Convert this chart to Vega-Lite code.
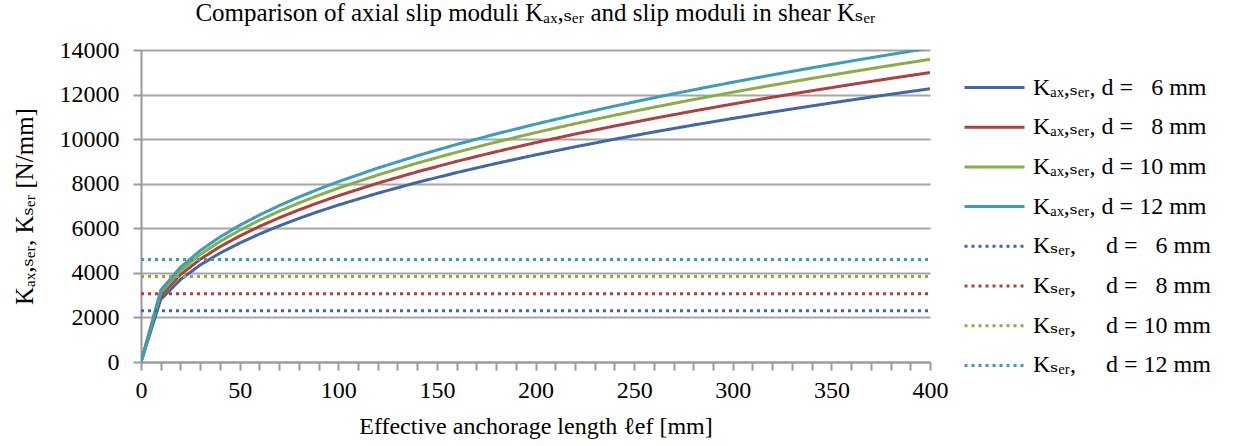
{
  "$schema": "https://vega.github.io/schema/vega-lite/v6.json",
  "width": 789,
  "height": 312,
  "autosize": {"type": "none"},
  "padding": {"left": 141, "top": 50, "right": 304, "bottom": 84},
  "background": "white",
  "title": {
    "text": "Comparison of axial slip moduli K\u2090\u2093,\u209b\u2091\u1d63 and slip moduli in shear K\u209b\u2091\u1d63",
    "font": "'Liberation Serif', 'DejaVu Serif'",
    "fontSize": 25,
    "fontWeight": "normal",
    "color": "black",
    "anchor": "middle",
    "frame": "group",
    "offset": 12
  },
  "datasets": {
    "rows": [
      {"l": 0, "k": 0, "s": "A6"}, {"l": 10, "k": 2804, "s": "A6"}, {"l": 20, "k": 3699, "s": "A6"}, {"l": 30, "k": 4351, "s": "A6"}, {"l": 40, "k": 4882, "s": "A6"}, {"l": 50, "k": 5337, "s": "A6"}, {"l": 60, "k": 5741, "s": "A6"}, {"l": 70, "k": 6106, "s": "A6"}, {"l": 80, "k": 6441, "s": "A6"}, {"l": 90, "k": 6752, "s": "A6"}, {"l": 100, "k": 7043, "s": "A6"}, {"l": 120, "k": 7575, "s": "A6"}, {"l": 140, "k": 8057, "s": "A6"}, {"l": 160, "k": 8499, "s": "A6"}, {"l": 180, "k": 8909, "s": "A6"}, {"l": 200, "k": 9293, "s": "A6"}, {"l": 220, "k": 9654, "s": "A6"}, {"l": 240, "k": 9996, "s": "A6"}, {"l": 260, "k": 10321, "s": "A6"}, {"l": 280, "k": 10632, "s": "A6"}, {"l": 300, "k": 10929, "s": "A6"}, {"l": 320, "k": 11215, "s": "A6"}, {"l": 340, "k": 11490, "s": "A6"}, {"l": 360, "k": 11756, "s": "A6"}, {"l": 380, "k": 12013, "s": "A6"}, {"l": 400, "k": 12262, "s": "A6"},
      {"l": 0, "k": 0, "s": "A8"}, {"l": 10, "k": 2970, "s": "A8"}, {"l": 20, "k": 3919, "s": "A8"}, {"l": 30, "k": 4609, "s": "A8"}, {"l": 40, "k": 5171, "s": "A8"}, {"l": 50, "k": 5653, "s": "A8"}, {"l": 60, "k": 6081, "s": "A8"}, {"l": 70, "k": 6468, "s": "A8"}, {"l": 80, "k": 6823, "s": "A8"}, {"l": 90, "k": 7152, "s": "A8"}, {"l": 100, "k": 7460, "s": "A8"}, {"l": 120, "k": 8024, "s": "A8"}, {"l": 140, "k": 8534, "s": "A8"}, {"l": 160, "k": 9002, "s": "A8"}, {"l": 180, "k": 9437, "s": "A8"}, {"l": 200, "k": 9843, "s": "A8"}, {"l": 220, "k": 10226, "s": "A8"}, {"l": 240, "k": 10588, "s": "A8"}, {"l": 260, "k": 10932, "s": "A8"}, {"l": 280, "k": 11261, "s": "A8"}, {"l": 300, "k": 11576, "s": "A8"}, {"l": 320, "k": 11879, "s": "A8"}, {"l": 340, "k": 12170, "s": "A8"}, {"l": 360, "k": 12452, "s": "A8"}, {"l": 380, "k": 12724, "s": "A8"}, {"l": 400, "k": 12988, "s": "A8"},
      {"l": 0, "k": 0, "s": "A10"}, {"l": 10, "k": 3106, "s": "A10"}, {"l": 20, "k": 4097, "s": "A10"}, {"l": 30, "k": 4819, "s": "A10"}, {"l": 40, "k": 5407, "s": "A10"}, {"l": 50, "k": 5911, "s": "A10"}, {"l": 60, "k": 6359, "s": "A10"}, {"l": 70, "k": 6763, "s": "A10"}, {"l": 80, "k": 7134, "s": "A10"}, {"l": 90, "k": 7478, "s": "A10"}, {"l": 100, "k": 7800, "s": "A10"}, {"l": 120, "k": 8390, "s": "A10"}, {"l": 140, "k": 8924, "s": "A10"}, {"l": 160, "k": 9413, "s": "A10"}, {"l": 180, "k": 9867, "s": "A10"}, {"l": 200, "k": 10292, "s": "A10"}, {"l": 220, "k": 10692, "s": "A10"}, {"l": 240, "k": 11071, "s": "A10"}, {"l": 260, "k": 11431, "s": "A10"}, {"l": 280, "k": 11775, "s": "A10"}, {"l": 300, "k": 12105, "s": "A10"}, {"l": 320, "k": 12421, "s": "A10"}, {"l": 340, "k": 12726, "s": "A10"}, {"l": 360, "k": 13020, "s": "A10"}, {"l": 380, "k": 13305, "s": "A10"}, {"l": 400, "k": 13581, "s": "A10"},
      {"l": 0, "k": 0, "s": "A12"}, {"l": 10, "k": 3221, "s": "A12"}, {"l": 20, "k": 4250, "s": "A12"}, {"l": 30, "k": 4998, "s": "A12"}, {"l": 40, "k": 5607, "s": "A12"}, {"l": 50, "k": 6131, "s": "A12"}, {"l": 60, "k": 6595, "s": "A12"}, {"l": 70, "k": 7014, "s": "A12"}, {"l": 80, "k": 7399, "s": "A12"}, {"l": 90, "k": 7756, "s": "A12"}, {"l": 100, "k": 8090, "s": "A12"}, {"l": 120, "k": 8702, "s": "A12"}, {"l": 140, "k": 9255, "s": "A12"}, {"l": 160, "k": 9763, "s": "A12"}, {"l": 180, "k": 10234, "s": "A12"}, {"l": 200, "k": 10674, "s": "A12"}, {"l": 220, "k": 11089, "s": "A12"}, {"l": 240, "k": 11482, "s": "A12"}, {"l": 260, "k": 11856, "s": "A12"}, {"l": 280, "k": 12212, "s": "A12"}, {"l": 300, "k": 12554, "s": "A12"}, {"l": 320, "k": 12882, "s": "A12"}, {"l": 340, "k": 13199, "s": "A12"}, {"l": 360, "k": 13504, "s": "A12"}, {"l": 380, "k": 13799, "s": "A12"}, {"l": 400, "k": 14085, "s": "A12"},
      {"l": 0, "k": 2300, "s": "S6"}, {"l": 400, "k": 2300, "s": "S6"},
      {"l": 0, "k": 3067, "s": "S8"}, {"l": 400, "k": 3067, "s": "S8"},
      {"l": 0, "k": 3833, "s": "S10"}, {"l": 400, "k": 3833, "s": "S10"},
      {"l": 0, "k": 4600, "s": "S12"}, {"l": 400, "k": 4600, "s": "S12"}
    ]
  },
  "data": {"name": "rows"},
  "mark": {"type": "line", "strokeWidth": 3, "clip": true},
  "encoding": {
    "x": {
      "field": "l",
      "type": "quantitative",
      "scale": {"domain": [0, 400], "nice": false},
      "axis": {
        "title": "Effective anchorage length \u2113ef [mm]",
        "grid": false,
        "values": [0, 10, 20, 30, 40, 50, 60, 70, 80, 90, 100, 110, 120, 130, 140, 150, 160, 170, 180, 190, 200, 210, 220, 230, 240, 250, 260, 270, 280, 290, 300, 310, 320, 330, 340, 350, 360, 370, 380, 390, 400],
        "labelExpr": "datum.value % 50 === 0 ? datum.label : ''",
        "labelOverlap": false,
        "labelBound": false,
        "labelFlush": false,
        "labelPadding": 8,
        "titlePadding": 12
      }
    },
    "y": {
      "field": "k",
      "type": "quantitative",
      "scale": {"domain": [0, 14000], "nice": false},
      "axis": {
        "title": "K\u2090\u2093,\u209b\u2091\u1d63, K\u209b\u2091\u1d63 [N/mm]",
        "titleFontSize": 25,
        "values": [0, 2000, 4000, 6000, 8000, 10000, 12000, 14000],
        "format": "d",
        "grid": true,
        "labelPadding": 14,
        "titlePadding": 22
      }
    },
    "color": {
      "field": "s",
      "type": "nominal",
      "scale": {
        "domain": ["A6", "A8", "A10", "A12", "S6", "S8", "S10", "S12"],
        "range": ["#3E68A8", "#AF403D", "#8AAE46", "#3A9DBA", "#3E68A8", "#AF403D", "#8AAE46", "#3A9DBA"]
      },
      "legend": {
        "title": null,
        "orient": "none",
        "legendX": 822,
        "legendY": 21,
        "symbolType": "M-1,0H3",
        "symbolSize": 900,
        "symbolStrokeWidth": 3,
        "symbolFillColor": "transparent",
        "labelFont": "'Liberation Serif', 'DejaVu Serif'",
        "labelFontSize": 24,
        "labelColor": "black",
        "labelOffset": 37,
        "labelLimit": 400,
        "rowPadding": 10.7,
        "labelExpr": "{'A6': 'K\u2090\u2093,\u209b\u2091\u1d63, d = \u20076 mm', 'A8': 'K\u2090\u2093,\u209b\u2091\u1d63, d = \u20078 mm', 'A10': 'K\u2090\u2093,\u209b\u2091\u1d63, d = 10 mm', 'A12': 'K\u2090\u2093,\u209b\u2091\u1d63, d = 12 mm', 'S6': 'K\u209b\u2091\u1d63,\u00a0\u00a0\u00a0\u00a0 d = \u20076 mm', 'S8': 'K\u209b\u2091\u1d63,\u00a0\u00a0\u00a0\u00a0 d = \u20078 mm', 'S10': 'K\u209b\u2091\u1d63,\u00a0\u00a0\u00a0\u00a0 d = 10 mm', 'S12': 'K\u209b\u2091\u1d63,\u00a0\u00a0\u00a0\u00a0 d = 12 mm'}[datum.label]"
      }
    },
    "strokeDash": {
      "field": "s",
      "type": "nominal",
      "scale": {
        "domain": ["A6", "A8", "A10", "A12", "S6", "S8", "S10", "S12"],
        "range": [[1, 0], [1, 0], [1, 0], [1, 0], [3, 4], [3, 4], [3, 4], [3, 4]]
      },
      "legend": null
    }
  },
  "config": {
    "font": "'Liberation Serif', 'DejaVu Serif'",
    "view": {"stroke": null},
    "axis": {
      "labelFont": "'Liberation Serif', 'DejaVu Serif'",
      "labelFontSize": 24,
      "labelColor": "black",
      "titleFont": "'Liberation Serif', 'DejaVu Serif'",
      "titleFontSize": 24,
      "titleFontWeight": "normal",
      "titleColor": "black",
      "domainColor": "#9a9a9a",
      "domainWidth": 2,
      "tickColor": "#9a9a9a",
      "tickWidth": 2,
      "tickSize": 8,
      "gridColor": "#a6a6a6",
      "gridWidth": 2
    }
  }
}
